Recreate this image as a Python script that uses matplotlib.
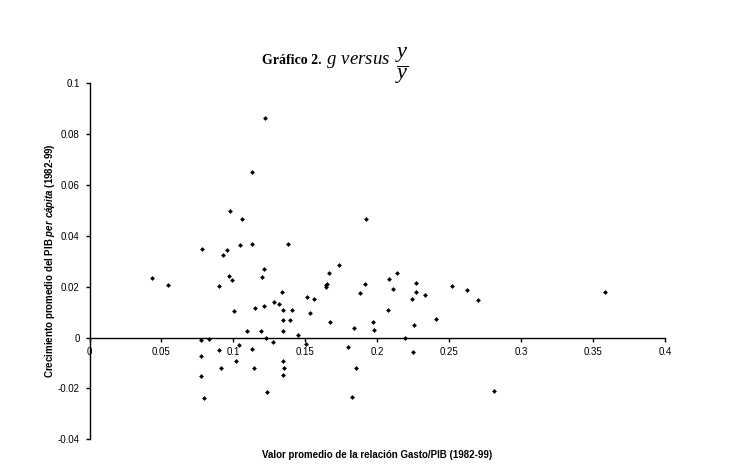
import matplotlib
matplotlib.use("Agg")
import matplotlib.pyplot as plt

# Average government spending / GDP ratio (1982-99)
gasto_pib = [
    0.1219, 0.1130, 0.0980, 0.1057, 0.0779, 0.0953, 0.1043, 0.1131, 0.1380,
    0.0929, 0.0432, 0.0543, 0.0969, 0.0992, 0.0902, 0.1212, 0.1200, 0.1735,
    0.1663, 0.1652, 0.1645, 0.1641, 0.1337, 0.1515, 0.1559, 0.1284, 0.1314,
    0.1147, 0.1214, 0.1006, 0.1344, 0.1404, 0.1534, 0.1346, 0.1395, 0.1670,
    0.1092, 0.1189, 0.1346, 0.1450, 0.0774, 0.0832, 0.1226, 0.1272, 0.1506,
    0.1040, 0.1795, 0.0902, 0.1131, 0.0777, 0.1017, 0.1346, 0.0911, 0.1140,
    0.1355, 0.0777, 0.1346, 0.0795, 0.1233,
    0.1913, 0.1878, 0.2085, 0.2140, 0.2110, 0.2270, 0.2267, 0.2244, 0.2335,
    0.2520, 0.2622, 0.2698, 0.2078, 0.1971, 0.1976, 0.1837, 0.2406, 0.2253,
    0.2193, 0.2251, 0.1855, 0.1827, 0.2809, 0.1925, 0.3580,
]
# Average GDP per capita growth (1982-99)
crecimiento = [
    0.0862, 0.0651, 0.0497, 0.0468, 0.0349, 0.0346, 0.0366, 0.0367, 0.0369,
    0.0323, 0.0233, 0.0205, 0.0244, 0.0228, 0.0201, 0.0270, 0.0239, 0.0287,
    0.0253, 0.0211, 0.0205, 0.0200, 0.0181, 0.0160, 0.0153, 0.0139, 0.0132,
    0.0117, 0.0125, 0.0106, 0.0107, 0.0110, 0.0098, 0.0069, 0.0068, 0.0063,
    0.0026, 0.0027, 0.0025, 0.0009, -0.0008, -0.0005, -0.0003, -0.0017, -0.0024,
    -0.0028, -0.0037, -0.0050, -0.0046, -0.0072, -0.0091, -0.0091, -0.0120, -0.0118,
    -0.0120, -0.0152, -0.0148, -0.0236, -0.0215,
    0.0210, 0.0177, 0.0232, 0.0253, 0.0191, 0.0214, 0.0178, 0.0151, 0.0167,
    0.0203, 0.0187, 0.0148, 0.0109, 0.0063, 0.0031, 0.0037, 0.0072, 0.0048,
    0.0000, -0.0055, -0.0118, -0.0232, -0.0211, 0.0468, 0.0180,
]

x_ticks = [0, 0.05, 0.1, 0.15, 0.2, 0.25, 0.3, 0.35, 0.4]
x_tick_labels = ["0", "0.05", "0.1", "0.15", "0.2", "0.25", "0.3", "0.35", "0.4"]
y_ticks = [-0.04, -0.02, 0, 0.02, 0.04, 0.06, 0.08, 0.1]
y_tick_labels = ["-0.04", "-0.02", "0", "0.02", "0.04", "0.06", "0.08", "0.1"]

plt.rcParams['font.family'] = ['Liberation Sans', 'DejaVu Sans']
plt.rcParams['mathtext.fontset'] = 'custom'
plt.rcParams['mathtext.it'] = 'Liberation Sans:italic:bold'
plt.rcParams['mathtext.rm'] = 'Liberation Serif:italic'
plt.rcParams['mathtext.bf'] = 'Liberation Sans:bold'

W, H = 732, 473
fig = plt.figure(figsize=(W / 100, H / 100), dpi=100)
fig.patch.set_facecolor('white')
ax = fig.add_axes([89.5 / W, 1 - 439.3 / H, (665 - 89.5) / W, (439.3 - 83.3) / H])

ax.scatter(gasto_pib, crecimiento, marker='D', s=6, color='black', linewidths=0)

ax.set_xlim(0, 0.4)
ax.set_ylim(-0.04, 0.1)
ax.set_xticks(x_ticks)
ax.set_xticklabels(x_tick_labels)
ax.set_yticks(y_ticks)
ax.set_yticklabels(y_tick_labels)

ax.spines['top'].set_visible(False)
ax.spines['right'].set_visible(False)
ax.spines['bottom'].set_position(('data', 0))
for s in ('left', 'bottom'):
    ax.spines[s].set_linewidth(1.0)
    ax.spines[s].set_color('black')
ax.tick_params(axis='both', direction='out', length=3, width=1, labelsize=7,
               colors='black', pad=4)

# axis labels
fig.text(377 / W, 1 - 455 / H, "Valor promedio de la relación Gasto/PIB (1982-99)",
         ha='center', va='center', fontsize=7, fontweight='bold')
fig.text(50 / W, 1 - 261 / H,
         r"Crecimiento promedio del PIB $\it{per\ cápita}$ (1982-99)",
         rotation=90, ha='center', va='center', fontsize=7, fontweight='bold')

# title
fig.text(262 / W, 1 - 64 / H, "Gráfico 2.", ha='left', va='baseline',
         fontsize=10, fontweight='bold', family=['Liberation Serif', 'DejaVu Serif'])
fig.text(326 / W, 1 - 64 / H, r"$\mathrm{g\ versus}$",
         ha='left', va='baseline', fontsize=13.5)
fig.text(402 / W, 1 - 66 / H, r"$\dfrac{\mathrm{y}}{\mathrm{y}}$",
         ha='center', va='center', fontsize=16)

fig.savefig("out.png", dpi=100, facecolor='white')
